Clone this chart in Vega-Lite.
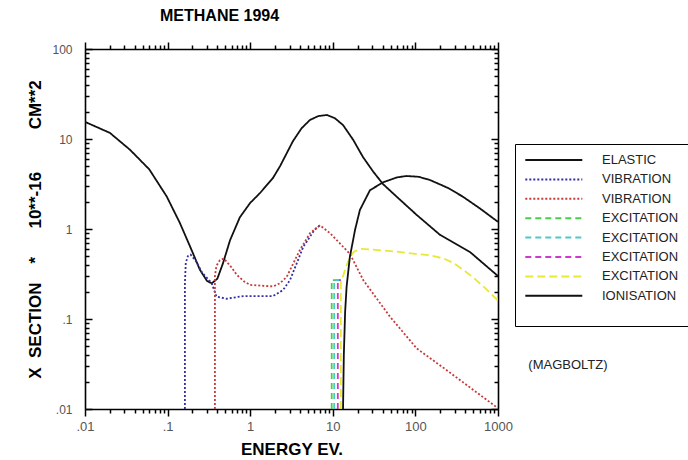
{
  "$schema": "https://vega.github.io/schema/vega-lite/v6.json",
  "width": 413,
  "height": 360,
  "autosize": {"type": "none"},
  "padding": {"left": 85, "top": 49, "right": 190, "bottom": 51},
  "background": "white",
  "title": {"text": "METHANE  1994", "frame": "group", "anchor": "start", "dx": 75, "offset": 17, "font": "Liberation Sans", "fontSize": 16, "fontWeight": "bold", "color": "black"},
  "config": {
    "view": {"stroke": null},
    "axis": {"grid": false, "ticks": true, "domainColor": "black", "domainWidth": 1.6, "tickColor": "black", "tickOpacity": 1, "tickWidth": 1.5, "labelFont": "Liberation Sans", "labelColor": "#555", "titleFont": "Liberation Sans", "titleFontWeight": "bold", "titleColor": "black", "titleFontSize": 17}
  },
  "datasets": {
    "curves": [
      {"s": "ELASTIC", "i": 0, "x": 0.01, "y": 15.5},
      {"s": "ELASTIC", "i": 1, "x": 0.02, "y": 11.7},
      {"s": "ELASTIC", "i": 2, "x": 0.035, "y": 7.6},
      {"s": "ELASTIC", "i": 3, "x": 0.06, "y": 4.6},
      {"s": "ELASTIC", "i": 4, "x": 0.0975, "y": 2.3},
      {"s": "ELASTIC", "i": 5, "x": 0.14, "y": 1.18},
      {"s": "ELASTIC", "i": 6, "x": 0.187, "y": 0.64},
      {"s": "ELASTIC", "i": 7, "x": 0.247, "y": 0.35},
      {"s": "ELASTIC", "i": 8, "x": 0.3, "y": 0.265},
      {"s": "ELASTIC", "i": 9, "x": 0.342, "y": 0.249},
      {"s": "ELASTIC", "i": 10, "x": 0.4, "y": 0.28},
      {"s": "ELASTIC", "i": 11, "x": 0.47, "y": 0.42},
      {"s": "ELASTIC", "i": 12, "x": 0.57, "y": 0.75},
      {"s": "ELASTIC", "i": 13, "x": 0.75, "y": 1.35},
      {"s": "ELASTIC", "i": 14, "x": 1.0, "y": 1.95},
      {"s": "ELASTIC", "i": 15, "x": 1.31, "y": 2.5},
      {"s": "ELASTIC", "i": 16, "x": 1.89, "y": 3.7},
      {"s": "ELASTIC", "i": 17, "x": 2.3, "y": 5.0},
      {"s": "ELASTIC", "i": 18, "x": 3.3, "y": 9.5},
      {"s": "ELASTIC", "i": 19, "x": 4.2, "y": 13.2},
      {"s": "ELASTIC", "i": 20, "x": 5.3, "y": 16.3},
      {"s": "ELASTIC", "i": 21, "x": 6.7, "y": 18.0},
      {"s": "ELASTIC", "i": 22, "x": 8.5, "y": 18.5},
      {"s": "ELASTIC", "i": 23, "x": 10.6, "y": 17.0},
      {"s": "ELASTIC", "i": 24, "x": 13.3, "y": 14.3},
      {"s": "ELASTIC", "i": 25, "x": 17.7, "y": 9.75},
      {"s": "ELASTIC", "i": 26, "x": 23.2, "y": 6.3},
      {"s": "ELASTIC", "i": 27, "x": 30.9, "y": 4.33},
      {"s": "ELASTIC", "i": 28, "x": 40.6, "y": 3.15},
      {"s": "ELASTIC", "i": 29, "x": 59.8, "y": 2.27},
      {"s": "ELASTIC", "i": 30, "x": 104, "y": 1.43},
      {"s": "ELASTIC", "i": 31, "x": 199, "y": 0.86},
      {"s": "ELASTIC", "i": 32, "x": 458, "y": 0.555},
      {"s": "ELASTIC", "i": 33, "x": 1000, "y": 0.3},

      {"s": "VIBRATION_1", "i": 0, "x": 0.162, "y": 0.01},
      {"s": "VIBRATION_1", "i": 1, "x": 0.162, "y": 0.25},
      {"s": "VIBRATION_1", "i": 2, "x": 0.166, "y": 0.42},
      {"s": "VIBRATION_1", "i": 3, "x": 0.176, "y": 0.5},
      {"s": "VIBRATION_1", "i": 4, "x": 0.19, "y": 0.52},
      {"s": "VIBRATION_1", "i": 5, "x": 0.22, "y": 0.44},
      {"s": "VIBRATION_1", "i": 6, "x": 0.26, "y": 0.33},
      {"s": "VIBRATION_1", "i": 7, "x": 0.342, "y": 0.25},
      {"s": "VIBRATION_1", "i": 8, "x": 0.39, "y": 0.177},
      {"s": "VIBRATION_1", "i": 9, "x": 0.52, "y": 0.168},
      {"s": "VIBRATION_1", "i": 10, "x": 0.83, "y": 0.18},
      {"s": "VIBRATION_1", "i": 11, "x": 1.9, "y": 0.18},
      {"s": "VIBRATION_1", "i": 12, "x": 2.5, "y": 0.21},
      {"s": "VIBRATION_1", "i": 13, "x": 3.03, "y": 0.27},
      {"s": "VIBRATION_1", "i": 14, "x": 4.4, "y": 0.635},
      {"s": "VIBRATION_1", "i": 15, "x": 6.0, "y": 0.98},
      {"s": "VIBRATION_1", "i": 16, "x": 7.0, "y": 1.1},

      {"s": "VIBRATION_2", "i": 0, "x": 0.374, "y": 0.01},
      {"s": "VIBRATION_2", "i": 1, "x": 0.374, "y": 0.3},
      {"s": "VIBRATION_2", "i": 2, "x": 0.39, "y": 0.39},
      {"s": "VIBRATION_2", "i": 3, "x": 0.43, "y": 0.45},
      {"s": "VIBRATION_2", "i": 4, "x": 0.48, "y": 0.47},
      {"s": "VIBRATION_2", "i": 5, "x": 0.6, "y": 0.37},
      {"s": "VIBRATION_2", "i": 6, "x": 0.687, "y": 0.31},
      {"s": "VIBRATION_2", "i": 7, "x": 0.85, "y": 0.26},
      {"s": "VIBRATION_2", "i": 8, "x": 1.0, "y": 0.239},
      {"s": "VIBRATION_2", "i": 9, "x": 1.9, "y": 0.23},
      {"s": "VIBRATION_2", "i": 10, "x": 2.3, "y": 0.25},
      {"s": "VIBRATION_2", "i": 11, "x": 2.77, "y": 0.295},
      {"s": "VIBRATION_2", "i": 12, "x": 4.0, "y": 0.585},
      {"s": "VIBRATION_2", "i": 13, "x": 5.3, "y": 0.9},
      {"s": "VIBRATION_2", "i": 14, "x": 7.0, "y": 1.1},
      {"s": "VIBRATION_2", "i": 15, "x": 9.25, "y": 0.9},
      {"s": "VIBRATION_2", "i": 16, "x": 16.1, "y": 0.53},
      {"s": "VIBRATION_2", "i": 17, "x": 23.4, "y": 0.27},
      {"s": "VIBRATION_2", "i": 18, "x": 49.3, "y": 0.106},
      {"s": "VIBRATION_2", "i": 19, "x": 104, "y": 0.047},
      {"s": "VIBRATION_2", "i": 20, "x": 239, "y": 0.027},
      {"s": "VIBRATION_2", "i": 21, "x": 502, "y": 0.0163},
      {"s": "VIBRATION_2", "i": 22, "x": 1000, "y": 0.0102},

      {"s": "EXCITATION_1", "i": 0, "x": 9.7, "y": 0.01},
      {"s": "EXCITATION_1", "i": 1, "x": 9.7, "y": 0.27},
      {"s": "EXCITATION_1", "i": 2, "x": 12.5, "y": 0.27},

      {"s": "EXCITATION_2", "i": 0, "x": 10.4, "y": 0.01},
      {"s": "EXCITATION_2", "i": 1, "x": 10.4, "y": 0.27},
      {"s": "EXCITATION_2", "i": 2, "x": 12.5, "y": 0.27},

      {"s": "EXCITATION_3", "i": 0, "x": 11.5, "y": 0.01},
      {"s": "EXCITATION_3", "i": 1, "x": 11.5, "y": 0.27},
      {"s": "EXCITATION_3", "i": 2, "x": 12.5, "y": 0.27},

      {"s": "EXCITATION_4", "i": 0, "x": 12.5, "y": 0.01},
      {"s": "EXCITATION_4", "i": 1, "x": 12.5, "y": 0.27},
      {"s": "EXCITATION_4", "i": 2, "x": 13.3, "y": 0.3},
      {"s": "EXCITATION_4", "i": 3, "x": 14.5, "y": 0.38},
      {"s": "EXCITATION_4", "i": 4, "x": 16.0, "y": 0.48},
      {"s": "EXCITATION_4", "i": 5, "x": 18.0, "y": 0.56},
      {"s": "EXCITATION_4", "i": 6, "x": 22.0, "y": 0.6},
      {"s": "EXCITATION_4", "i": 7, "x": 30.0, "y": 0.59},
      {"s": "EXCITATION_4", "i": 8, "x": 59.0, "y": 0.56},
      {"s": "EXCITATION_4", "i": 9, "x": 100, "y": 0.53},
      {"s": "EXCITATION_4", "i": 10, "x": 150, "y": 0.51},
      {"s": "EXCITATION_4", "i": 11, "x": 220, "y": 0.47},
      {"s": "EXCITATION_4", "i": 12, "x": 288, "y": 0.42},
      {"s": "EXCITATION_4", "i": 13, "x": 400, "y": 0.34},
      {"s": "EXCITATION_4", "i": 14, "x": 500, "y": 0.29},
      {"s": "EXCITATION_4", "i": 15, "x": 700, "y": 0.22},
      {"s": "EXCITATION_4", "i": 16, "x": 1000, "y": 0.16},

      {"s": "IONISATION", "i": 0, "x": 13.3, "y": 0.01},
      {"s": "IONISATION", "i": 1, "x": 13.6, "y": 0.04},
      {"s": "IONISATION", "i": 2, "x": 14.1, "y": 0.12},
      {"s": "IONISATION", "i": 3, "x": 14.7, "y": 0.23},
      {"s": "IONISATION", "i": 4, "x": 16.1, "y": 0.49},
      {"s": "IONISATION", "i": 5, "x": 18.6, "y": 0.98},
      {"s": "IONISATION", "i": 6, "x": 21.3, "y": 1.63},
      {"s": "IONISATION", "i": 7, "x": 28.2, "y": 2.7},
      {"s": "IONISATION", "i": 8, "x": 40.6, "y": 3.3},
      {"s": "IONISATION", "i": 9, "x": 60, "y": 3.75},
      {"s": "IONISATION", "i": 10, "x": 78.5, "y": 3.88},
      {"s": "IONISATION", "i": 11, "x": 110, "y": 3.8},
      {"s": "IONISATION", "i": 12, "x": 150, "y": 3.5},
      {"s": "IONISATION", "i": 13, "x": 250, "y": 2.85},
      {"s": "IONISATION", "i": 14, "x": 377, "y": 2.28},
      {"s": "IONISATION", "i": 15, "x": 600, "y": 1.7},
      {"s": "IONISATION", "i": 16, "x": 1000, "y": 1.2}
    ],
    "note": [{"x": 7030, "y": 0.031, "t": "(MAGBOLTZ)"}]
  },
  "layer": [
    {
      "data": {"name": "curves"},
      "mark": {"type": "line", "strokeWidth": 1.8, "clip": true},
      "encoding": {
        "x": {"field": "x", "type": "quantitative",
          "scale": {"type": "log", "domain": [0.01, 1000], "nice": false},
          "axis": {"orient": "bottom", "title": "ENERGY EV.", "titlePadding": 8, "ticks": true,
            "values": [0.01, 0.1, 1, 10, 100, 1000], "tickSize": 7,
            "labelExpr": "datum.value == 0.01 ? '.01' : datum.value == 0.1 ? '.1' : datum.value == 1 ? '1' : datum.value == 10 ? '10' : datum.value == 100 ? '100' : '1000'",
            "labelFontSize": 13, "labelPadding": 4, "labelFlush": false, "labelOverlap": false}},
        "y": {"field": "y", "type": "quantitative",
          "scale": {"type": "log", "domain": [0.01, 100], "nice": false},
          "axis": {"orient": "left", "title": "X\u00a0\u00a0SECTION\u00a0\u00a0\u00a0\u00a0*\u00a0\u00a0\u00a0\u00a0\u00a0\u00a010**-16\u00a0\u00a0\u00a0\u00a0\u00a0\u00a0\u00a0\u00a0\u00a0CM**2", "titlePadding": 7, "ticks": true,
            "values": [0.01, 0.1, 1, 10, 100], "tickSize": -7,
            "labelExpr": "datum.value == 0.01 ? '.01' : datum.value == 0.1 ? '.1' : datum.value == 1 ? '1' : datum.value == 10 ? '10' : '100'",
            "labelFontSize": 12, "labelPadding": 20, "labelFlush": false, "labelOverlap": false}},
        "color": {"field": "s", "type": "nominal",
          "scale": {"domain": ["ELASTIC","VIBRATION_1","VIBRATION_2","EXCITATION_1","EXCITATION_2","EXCITATION_3","EXCITATION_4","IONISATION"],
                    "range": ["#111111","#2f2fa6","#c83a3a","#4ccc4c","#4cc8cc","#cc3acc","#e8e838","#111111"]},
          "legend": {"title": "\u00a0", "titleOrient": "bottom", "titleFontSize": 10, "titlePadding": 4, "orient": "none", "legendX": 430, "legendY": 95, "symbolType": "M-1,0H9", "symbolSize": 130, "symbolStrokeWidth": 2, "labelExpr": "split(datum.label, '_')[0]", "labelFont": "Liberation Sans", "labelFontSize": 13, "labelColor": "#222", "labelOffset": 64, "strokeColor": "black", "padding": 9, "rowPadding": 5.4}},
        "strokeDash": {"field": "s", "type": "nominal",
          "scale": {"domain": ["ELASTIC","VIBRATION_1","VIBRATION_2","EXCITATION_1","EXCITATION_2","EXCITATION_3","EXCITATION_4","IONISATION"],
                    "range": [[1,0],[2,2],[2,2],[6,4],[6,4],[6,4],[8,4],[1,0]]},
          "legend": {"title": "\u00a0", "titleOrient": "bottom", "titleFontSize": 10, "titlePadding": 4, "orient": "none", "legendX": 430, "legendY": 95, "symbolType": "M-1,0H9", "symbolSize": 130, "symbolStrokeWidth": 2, "labelExpr": "split(datum.label, '_')[0]", "labelFont": "Liberation Sans", "labelFontSize": 13, "labelColor": "#222", "labelOffset": 64, "strokeColor": "black", "padding": 9, "rowPadding": 5.4}},
        "order": {"field": "i", "type": "quantitative"}
      }
    },
    {
      "data": {"name": "note"},
      "mark": {"type": "text", "font": "Liberation Sans", "fontSize": 13, "color": "#222", "clip": false},
      "encoding": {
        "x": {"field": "x", "type": "quantitative",
          "scale": {"type": "log", "domain": [0.01, 1000], "nice": false},
          "axis": {"orient": "top", "title": null, "labels": false, "ticks": true, "values": [0.01, 0.1, 1, 10, 100, 1000], "tickSize": 7}},
        "y": {"field": "y", "type": "quantitative",
          "scale": {"type": "log", "domain": [0.01, 100], "nice": false},
          "axis": {"orient": "right", "title": null, "labels": false, "ticks": true, "values": [0.01, 0.1, 1, 10, 100], "tickSize": -7}},
        "text": {"field": "t", "type": "nominal"}
      }
    },
    {
      "data": {"name": "note"},
      "mark": {"type": "point", "opacity": 0},
      "encoding": {
        "x": {"field": "x", "type": "quantitative",
          "scale": {"type": "log", "domain": [0.01, 1000], "nice": false},
          "axis": {"orient": "bottom", "title": null, "labels": false, "domain": false, "ticks": true, "tickSize": 4,
            "values": [0.02,0.03,0.04,0.05,0.06,0.07,0.08,0.09,0.2,0.3,0.4,0.5,0.6,0.7,0.8,0.9,2,3,4,5,6,7,8,9,20,30,40,50,60,70,80,90,200,300,400,500,600,700,800,900]}},
        "y": {"field": "y", "type": "quantitative",
          "scale": {"type": "log", "domain": [0.01, 100], "nice": false},
          "axis": {"orient": "left", "title": null, "labels": false, "domain": false, "ticks": true, "tickSize": -4,
            "values": [0.02,0.03,0.04,0.05,0.06,0.07,0.08,0.09,0.2,0.3,0.4,0.5,0.6,0.7,0.8,0.9,2,3,4,5,6,7,8,9,20,30,40,50,60,70,80,90]}}
      }
    },
    {
      "data": {"name": "note"},
      "mark": {"type": "point", "opacity": 0},
      "encoding": {
        "x": {"field": "x", "type": "quantitative",
          "scale": {"type": "log", "domain": [0.01, 1000], "nice": false},
          "axis": {"orient": "top", "title": null, "labels": false, "domain": false, "ticks": true, "tickSize": 4,
            "values": [0.02,0.03,0.04,0.05,0.06,0.07,0.08,0.09,0.2,0.3,0.4,0.5,0.6,0.7,0.8,0.9,2,3,4,5,6,7,8,9,20,30,40,50,60,70,80,90,200,300,400,500,600,700,800,900]}},
        "y": {"field": "y", "type": "quantitative",
          "scale": {"type": "log", "domain": [0.01, 100], "nice": false},
          "axis": {"orient": "right", "title": null, "labels": false, "domain": false, "ticks": true, "tickSize": -4,
            "values": [0.02,0.03,0.04,0.05,0.06,0.07,0.08,0.09,0.2,0.3,0.4,0.5,0.6,0.7,0.8,0.9,2,3,4,5,6,7,8,9,20,30,40,50,60,70,80,90]}}
      }
    }
  ],
  "resolve": {"axis": {"x": "independent", "y": "independent"}}
}
